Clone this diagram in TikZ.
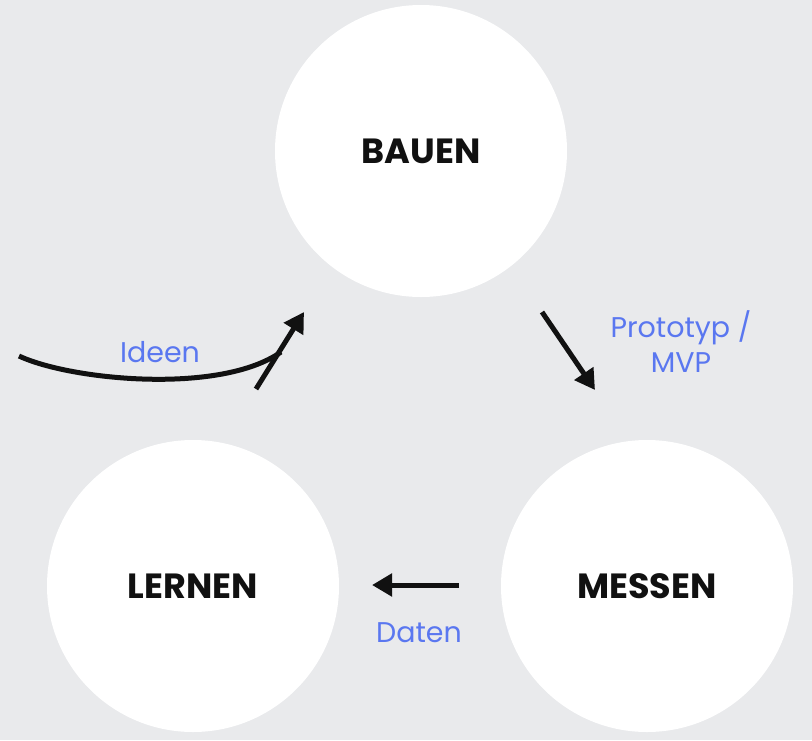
\documentclass[tikz,border=0pt]{standalone}
\usepackage{fontspec}
\setmainfont{Poppins}
\usepackage{xcolor}
\usetikzlibrary{arrows.meta}
\definecolor{bg}{HTML}{E9EAEC}
\definecolor{lbl}{HTML}{5A77F0}
\definecolor{ink}{HTML}{111111}

\begin{document}
\begin{tikzpicture}[x=1pt,y=-1pt]
\fill[bg] (0,0) rectangle (812,740);
\useasboundingbox (0,0) rectangle (812,740);
\tikzstyle{every node}=[circle, fill=white, minimum size=292pt,
                        inner sep=0pt, font=\fontsize{35}{40}\selectfont\bfseries, text=ink]
\node (bauen) at (421,151){BAUEN};
\node (lernen) at (193,586){LERNEN};
\node (messen) at (647,586){MESSEN};
\tikzstyle{every node}=[font=\fontsize{28.5}{35}\selectfont, text=lbl, align=center]
\node (ideen) at (160,352){Ideen};
\node (proto) at (681,342){Prototyp /\\MVP};
\node (daten) at (419,633){Daten};
\tikzstyle{pfeil}=[draw=ink, line width=5pt, -{Triangle[length=20pt,width=22pt]}]
\coordinate (i0) at (19,356);
\coordinate (i1) at (256,389);
\coordinate (i2) at (304,312);
\coordinate (p0) at (542,312);
\coordinate (p1) at (595,390);
\coordinate (d0) at (459,585);
\coordinate (d1) at (372,585);
\draw[draw=ink, line width=5pt] (i0) .. controls (70,380) and (220,395) .. (281,352);
\draw[pfeil] (i1) -- (i2);
\draw[pfeil] (p0) -- (p1);
\draw[pfeil] (d0) -- (d1);
\end{tikzpicture}
\end{document}
